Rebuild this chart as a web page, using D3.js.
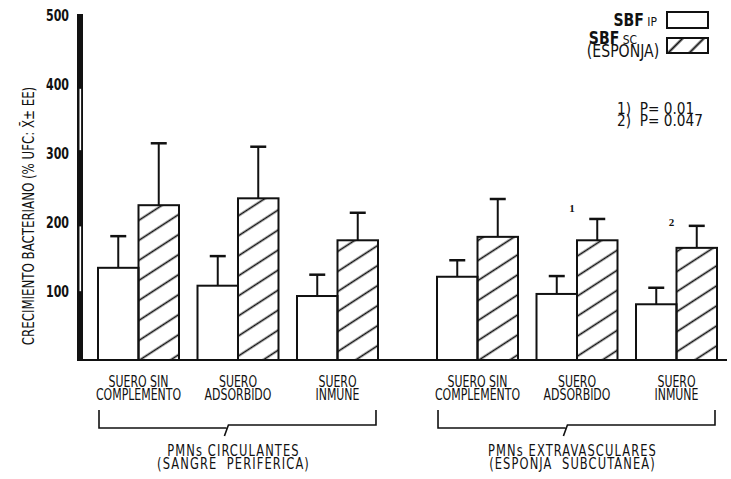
<!DOCTYPE html>
<html>
<head>
<meta charset="utf-8">
<script src="https://cdn.jsdelivr.net/npm/d3@7"></script>
<style>
  body { margin: 0; background: #fff; }
  svg text { font-family: "DejaVu Sans Condensed", "DejaVu Sans", sans-serif; font-stretch: condensed; fill: #111; white-space: pre; }
</style>
</head>
<body>
<script>
'use strict';

const groups = ['PMNs CIRCULANTES', 'PMNs EXTRAVASCULARES'];
const groupSubtitles = ['(SANGRE  PERIFERICA)', '(ESPONJA  SUBCUTANEA)'];
const categories = ['SUERO SIN|COMPLEMENTO', 'SUERO|ADSORBIDO', 'SUERO|INMUNE'];
const series = ['SBF IP', 'SBF SC'];

// valores por grupo x suero (3 del grupo 1, luego 3 del grupo 2)
const ipMean = [134, 108, 93, 121, 96, 81];
const ipError = [46, 43, 31, 24, 26, 24];
const scMean = [225, 235, 174, 179, 174, 163];
const scError = [90, 75, 40, 55, 31, 32];

const yTicks = [100, 200, 300, 400, 500];
const yLabel = 'CRECIMIENTO BACTERIANO (% UFC: X\u0304\u00b1 EE)';
const pNotes = ['1)  P= 0.01', '2)  P= 0.047'];
const marks = [{index: 4, label: '1', value: 221}, {index: 5, label: '2', value: 200}];

const width = 731;
const height = 479;

const svg = d3.select('body').append('svg')
  .attr('width', width)
  .attr('height', height);

const defs = svg.append('defs');

defs.append('pattern')
  .attr('id', 'hatch')
  .attr('patternUnits', 'userSpaceOnUse')
  .attr('width', 16.8)
  .attr('height', 16.8)
  .attr('patternTransform', 'rotate(-33)')
  .append('line')
  .attr('x1', 0).attr('x2', 16.8)
  .attr('y1', 8.4).attr('y2', 8.4)
  .attr('stroke', '#111')
  .attr('stroke-width', 1.7);

defs.append('pattern')
  .attr('id', 'hatch-legend')
  .attr('patternUnits', 'userSpaceOnUse')
  .attr('width', 15)
  .attr('height', 15)
  .attr('patternTransform', 'translate(668,0) rotate(-45)')
  .append('line')
  .attr('x1', 0).attr('x2', 15)
  .attr('y1', 7.5).attr('y2', 7.5)
  .attr('stroke', '#111')
  .attr('stroke-width', 2);

const rows = [];
groups.forEach((g, gi) => {
  categories.forEach((c, ci) => {
    const i = gi * categories.length + ci;
    rows.push({group: g, category: c, series: series[0], value: ipMean[i], error: ipError[i]});
    rows.push({group: g, category: c, series: series[1], value: scMean[i], error: scError[i]});
  });
});

const x0 = d3.scaleBand().domain(groups).range([88.75, 726.25]).paddingInner(0.1195);
const x1 = d3.scaleBand().domain(categories).range([0, x0.bandwidth()])
  .paddingInner(0.186).paddingOuter(0.093);
const x2 = d3.scaleBand().domain(series).range([0, x1.bandwidth()]);
const y = d3.scaleLinear().domain([0, 500]).range([360, 16]);

const barX = d => x0(d.group) + x1(d.category) + x2(d.series);

// texto estrechado, varias líneas en un solo <text>
function label(parent, x, y0, lines, opts = {}) {
  const g = parent.append('g')
    .attr('transform', `translate(${x},${y0})${opts.rotate ? ' rotate(' + opts.rotate + ')' : ''} scale(${opts.sx || 0.8},1)`);
  const t = g.append('text')
    .attr('text-anchor', opts.anchor || 'middle')
    .attr('font-size', opts.size || 16)
    .attr('font-weight', opts.weight || 'normal')
    .attr('letter-spacing', opts.spacing || 0);
  [].concat(lines).forEach((line, i) => {
    t.append('tspan').attr('x', 0).attr('y', i * (opts.lineHeight || 13)).text(line);
  });
  return t;
}

// eje y grueso
const axisBar = svg.append('g');
axisBar.append('rect')
  .attr('x', 77).attr('width', 6)
  .attr('y', y(500) - 2).attr('height', y(0) - y(500) + 2)
  .attr('fill', '#111');
[[400, 305], [200, 100]].forEach(([a, b]) => {
  axisBar.append('rect')
    .attr('x', 79.5).attr('width', 1.6)
    .attr('y', y(a) + 4).attr('height', y(b) - y(a) - 4)
    .attr('fill', '#fff');
});

const yAxis = svg.append('g')
  .attr('transform', 'translate(77,0)')
  .call(d3.axisLeft(y).tickValues(yTicks).tickSize(0).tickPadding(8));
yAxis.select('.domain').remove();
yAxis.selectAll('text')
  .attr('font-size', 15)
  .attr('font-weight', 'bold')
  .attr('font-family', '"DejaVu Sans Condensed", "DejaVu Sans", sans-serif')
  .attr('transform', 'scale(0.82,1)')
  .attr('x', -8 / 0.82);

label(svg, 34, 216, yLabel, {rotate: -90, size: 16, sx: 0.82});

// barras
svg.append('g').selectAll('rect')
  .data(rows)
  .join('rect')
  .attr('x', barX)
  .attr('width', x2.bandwidth())
  .attr('y', d => y(d.value))
  .attr('height', d => y(0) - y(d.value))
  .attr('fill', d => d.series === series[0] ? '#fff' : 'url(#hatch)')
  .attr('stroke', '#111')
  .attr('stroke-width', 2);

// barras de error
const err = svg.append('g').attr('stroke', '#111');
err.selectAll('line.stem')
  .data(rows)
  .join('line')
  .attr('class', 'stem')
  .attr('x1', d => barX(d) + x2.bandwidth() / 2)
  .attr('x2', d => barX(d) + x2.bandwidth() / 2)
  .attr('y1', d => y(d.value))
  .attr('y2', d => y(d.value + d.error))
  .attr('stroke-width', 2);
err.selectAll('line.cap')
  .data(rows)
  .join('line')
  .attr('class', 'cap')
  .attr('x1', d => barX(d) + x2.bandwidth() / 2 - 8)
  .attr('x2', d => barX(d) + x2.bandwidth() / 2 + 8)
  .attr('y1', d => y(d.value + d.error))
  .attr('y2', d => y(d.value + d.error))
  .attr('stroke-width', 2.5);

// línea base
svg.append('line')
  .attr('x1', 77).attr('x2', 727)
  .attr('y1', y(0)).attr('y2', y(0))
  .attr('stroke', '#111')
  .attr('stroke-width', 2.2);

// marcas de significación
marks.forEach(m => {
  const g = groups[Math.floor(m.index / categories.length)];
  const c = categories[m.index % categories.length];
  svg.append('text')
    .attr('x', x0(g) + x1(c) + x1.bandwidth() / 2 - 5)
    .attr('y', y(m.value) + 4)
    .attr('text-anchor', 'middle')
    .attr('font-size', 11)
    .attr('font-weight', 'bold')
    .style('font-family', '"Liberation Serif", serif')
    .text(m.label);
});

// etiquetas de categoría y llaves
groups.forEach((g, gi) => {
  categories.forEach(c => {
    const cx = x0(g) + x1(c) + x1.bandwidth() / 2;
    label(svg, cx, 387, c.split('|'), {size: 16, sx: 0.76});
  });
  const left = x0(g) + x1(categories[0]) + 1;
  const right = x0(g) + x1(categories[categories.length - 1]) + x1.bandwidth() - 2;
  const mid = left + (right - left) * 0.46;
  svg.append('path')
    .attr('d', `M${left},410V428H${mid}M${mid - 2},436L${mid + 2},425H${right}V410`)
    .attr('fill', 'none')
    .attr('stroke', '#111')
    .attr('stroke-width', 1.6);
  const gx = (left + right) / 2 - 4;
  label(svg, gx, 456, [g, groupSubtitles[gi]], {size: 15, sx: 0.85, spacing: 1.3});
});

// leyenda
const legend = svg.append('g');
legend.append('rect')
  .attr('x', 667).attr('y', 12).attr('width', 41).attr('height', 16)
  .attr('fill', '#fff').attr('stroke', '#111').attr('stroke-width', 2);
legend.append('rect')
  .attr('x', 667).attr('y', 38).attr('width', 41).attr('height', 15)
  .attr('fill', 'url(#hatch-legend)').attr('stroke', '#111').attr('stroke-width', 2);

const t1 = label(legend, 657, 26, [], {anchor: 'end', size: 17, sx: 0.92});
t1.append('tspan').attr('font-weight', 'bold').text('SBF');
t1.append('tspan').attr('font-size', 13).text(' IP');

const t2 = label(legend, 623, 44, [], {size: 17, sx: 0.92});
t2.append('tspan').attr('x', -11).attr('y', 0).attr('font-weight', 'bold').text('SBF');
t2.append('tspan').attr('font-size', 13).text(' SC');
t2.append('tspan').attr('x', 0).attr('y', 13).text('(ESPONJA)');

label(legend, 617, 114, pNotes, {anchor: 'start', size: 16, sx: 0.95, lineHeight: 12});
</script>
</body>
</html>
